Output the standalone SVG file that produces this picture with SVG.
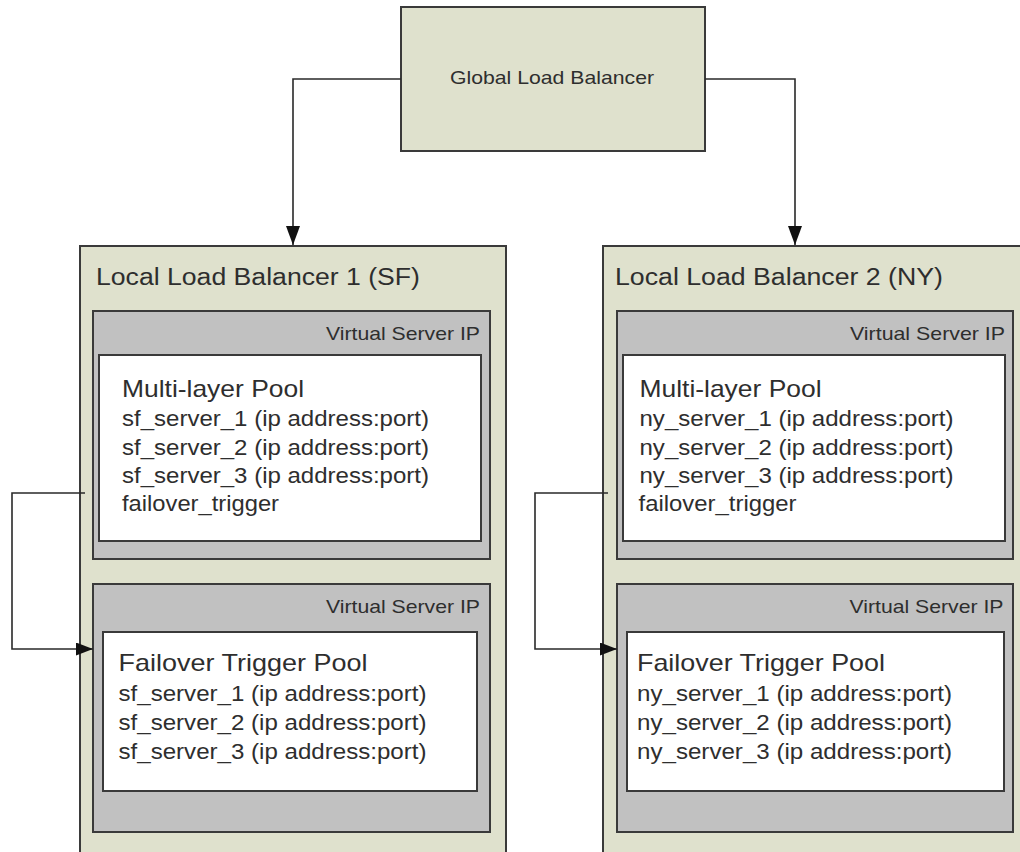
<svg xmlns="http://www.w3.org/2000/svg" width="1020" height="852" viewBox="0 0 1020 852">
<defs>
<style>
.olive{fill:#dfe1cd;stroke:#3a3a3a;stroke-width:2}
.gray{fill:#c1c1c1;stroke:#3a3a3a;stroke-width:2}
.white{fill:#ffffff;stroke:#3a3a3a;stroke-width:2}
text{font-family:"Liberation Sans",Arial,sans-serif;fill:#2e2e2e}
.t-glb{font-size:19px}
.t-title{font-size:23px}
.t-vs{font-size:19px}
.t-pool{font-size:24px}
.t-srv{font-size:22px}
.conn{fill:none;stroke:#2a2a2a;stroke-width:1.6}
</style>
<marker id="arrowBig" markerUnits="userSpaceOnUse" markerWidth="20" markerHeight="15" refX="19" refY="7" orient="auto" viewBox="0 0 20 15">
<path d="M0,0 L19,7 L0,14 z" fill="#111"/>
</marker>
<marker id="arrow" markerUnits="userSpaceOnUse" markerWidth="18" markerHeight="14" refX="17" refY="6.5" orient="auto" viewBox="0 0 18 14">
<path d="M0,0 L17,6.5 L0,13 z" fill="#111"/>
</marker>
</defs>

<g id="global-lb">
<rect class="olive" x="401" y="7" width="304" height="144"/>
<text class="t-glb" x="450" y="84" textLength="204" lengthAdjust="spacingAndGlyphs">Global Load Balancer</text>
</g>

<g id="local-lb1">
<rect class="olive" x="80" y="246" width="426" height="620"/>
<text class="t-title" x="96" y="285" textLength="324" lengthAdjust="spacingAndGlyphs">Local Load Balancer 1 (SF)</text>
</g>
<g id="lb1-vs1">
<rect class="gray" x="93" y="311" width="397" height="248"/>
<text class="t-vs" x="326" y="340" textLength="154" lengthAdjust="spacingAndGlyphs">Virtual Server IP</text>
</g>
<g id="lb1-multilayer-pool">
<rect class="white" x="99" y="355" width="382" height="186"/>
<text class="t-pool" x="122" y="397" textLength="182" lengthAdjust="spacingAndGlyphs">Multi-layer Pool</text>
<text class="t-srv" x="122" y="426" textLength="307" lengthAdjust="spacingAndGlyphs">sf_server_1 (ip address:port)</text>
<text class="t-srv" x="122" y="454.5" textLength="307" lengthAdjust="spacingAndGlyphs">sf_server_2 (ip address:port)</text>
<text class="t-srv" x="122" y="483" textLength="307" lengthAdjust="spacingAndGlyphs">sf_server_3 (ip address:port)</text>
<text class="t-srv" x="122" y="511" textLength="157" lengthAdjust="spacingAndGlyphs">failover_trigger</text>
</g>
<g id="lb1-vs2">
<rect class="gray" x="93" y="584" width="397" height="248"/>
<text class="t-vs" x="326" y="613" textLength="154" lengthAdjust="spacingAndGlyphs">Virtual Server IP</text>
</g>
<g id="lb1-failover-pool">
<rect class="white" x="103" y="632" width="374" height="159"/>
<text class="t-pool" x="118.5" y="671" textLength="249" lengthAdjust="spacingAndGlyphs">Failover Trigger Pool</text>
<text class="t-srv" x="118.5" y="700.5" textLength="308" lengthAdjust="spacingAndGlyphs">sf_server_1 (ip address:port)</text>
<text class="t-srv" x="118.5" y="729.5" textLength="308" lengthAdjust="spacingAndGlyphs">sf_server_2 (ip address:port)</text>
<text class="t-srv" x="118.5" y="758.5" textLength="308" lengthAdjust="spacingAndGlyphs">sf_server_3 (ip address:port)</text>
</g>

<g id="local-lb2">
<rect class="olive" x="603" y="246" width="426" height="620"/>
<text class="t-title" x="615" y="285" textLength="328" lengthAdjust="spacingAndGlyphs">Local Load Balancer 2 (NY)</text>
</g>
<g id="lb2-vs1">
<rect class="gray" x="617" y="311" width="396" height="248"/>
<text class="t-vs" x="850" y="340" textLength="155" lengthAdjust="spacingAndGlyphs">Virtual Server IP</text>
</g>
<g id="lb2-multilayer-pool">
<rect class="white" x="623" y="355" width="382" height="186"/>
<text class="t-pool" x="639.5" y="397" textLength="182" lengthAdjust="spacingAndGlyphs">Multi-layer Pool</text>
<text class="t-srv" x="639.5" y="426" textLength="314" lengthAdjust="spacingAndGlyphs">ny_server_1 (ip address:port)</text>
<text class="t-srv" x="639.5" y="454.5" textLength="314" lengthAdjust="spacingAndGlyphs">ny_server_2 (ip address:port)</text>
<text class="t-srv" x="639.5" y="483" textLength="314" lengthAdjust="spacingAndGlyphs">ny_server_3 (ip address:port)</text>
<text class="t-srv" x="638.5" y="511" textLength="158" lengthAdjust="spacingAndGlyphs">failover_trigger</text>
</g>
<g id="lb2-vs2">
<rect class="gray" x="617" y="584" width="396" height="248"/>
<text class="t-vs" x="849.5" y="613" textLength="154" lengthAdjust="spacingAndGlyphs">Virtual Server IP</text>
</g>
<g id="lb2-failover-pool">
<rect class="white" x="627" y="632" width="377" height="159"/>
<text class="t-pool" x="637" y="671" textLength="248" lengthAdjust="spacingAndGlyphs">Failover Trigger Pool</text>
<text class="t-srv" x="637" y="700.5" textLength="315" lengthAdjust="spacingAndGlyphs">ny_server_1 (ip address:port)</text>
<text class="t-srv" x="637" y="729.5" textLength="315" lengthAdjust="spacingAndGlyphs">ny_server_2 (ip address:port)</text>
<text class="t-srv" x="637" y="758.5" textLength="315" lengthAdjust="spacingAndGlyphs">ny_server_3 (ip address:port)</text>
</g>

<g id="connectors">
<path class="conn" d="M401,79 H293 V245" marker-end="url(#arrowBig)"/>
<path class="conn" d="M705,79 H795 V245" marker-end="url(#arrowBig)"/>
<path class="conn" d="M85,493 H12 V649 H93" marker-end="url(#arrow)"/>
<path class="conn" d="M608,493 H535 V649 H617" marker-end="url(#arrow)"/>
</g>
</svg>
